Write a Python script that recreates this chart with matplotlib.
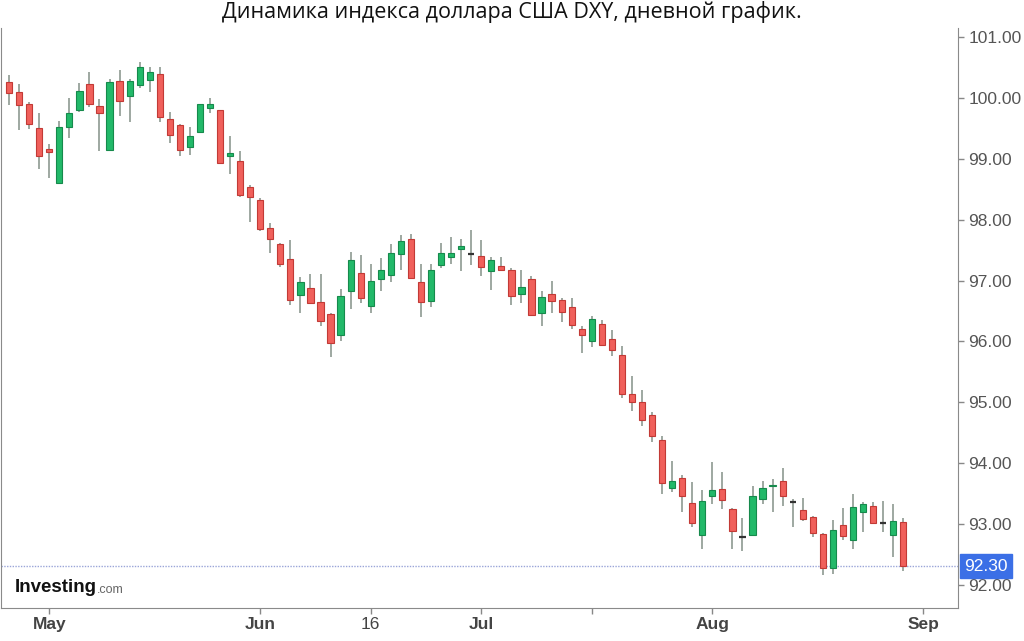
import numpy as np
import pandas as pd
import matplotlib
matplotlib.use("Agg")
import matplotlib.pyplot as plt
from matplotlib.transforms import blended_transform_factory

# daily DXY candles, Apr 27 - Aug 28 2020 (trading days)
opens = [100.27, 100.10, 99.91, 99.51, 99.16, 98.60, 99.53, 99.81, 100.24, 99.87,
         99.14, 100.28, 100.03, 100.21, 100.29, 100.40, 99.65, 99.56, 99.19, 99.45,
         99.83, 99.80, 99.05, 98.96, 98.54, 98.32, 97.87, 97.60, 97.35, 96.76,
         96.87, 96.65, 96.45, 96.11, 96.82, 97.12, 96.58, 97.02, 97.09, 97.44,
         97.69, 96.97, 96.67, 97.26, 97.38, 97.52, 97.43, 97.41, 97.16, 97.24,
         97.17, 96.78, 97.02, 96.46, 96.78, 96.68, 96.56, 96.20, 96.01, 96.29,
         96.04, 95.77, 95.14, 95.00, 94.79, 94.37, 93.59, 93.75, 93.34, 92.82,
         93.45, 93.57, 93.24, 92.78, 92.81, 93.40, 93.62, 93.70, 93.36, 93.23,
         93.11, 92.83, 92.28, 92.98, 92.73, 93.19, 93.30, 93.02, 92.82, 93.03]
highs = [100.38, 100.24, 99.94, 99.76, 99.24, 99.63, 100.01, 100.25, 100.43, 99.98,
         100.31, 100.47, 100.32, 100.59, 100.52, 100.51, 99.77, 99.57, 99.52, 99.91,
         100.01, 99.81, 99.37, 99.13, 98.57, 98.35, 97.94, 97.62, 97.67, 97.06,
         97.10, 97.10, 96.46, 96.86, 97.47, 97.42, 97.28, 97.37, 97.60, 97.75,
         97.77, 97.27, 97.27, 97.62, 97.71, 97.68, 97.83, 97.66, 97.38, 97.38,
         97.20, 97.17, 97.08, 96.83, 97.00, 96.71, 96.72, 96.25, 96.42, 96.35,
         96.19, 95.93, 95.43, 95.20, 94.83, 94.44, 94.03, 93.81, 93.68, 93.55,
         94.01, 93.85, 93.26, 93.10, 93.62, 93.70, 93.74, 93.92, 93.40, 93.43,
         93.12, 92.84, 93.07, 93.26, 93.49, 93.35, 93.36, 93.38, 93.33, 93.10]
lows = [99.88, 99.48, 99.50, 98.84, 98.68, 98.58, 99.34, 99.77, 99.85, 99.13,
        99.13, 99.70, 99.61, 100.16, 100.10, 99.61, 99.26, 99.05, 99.06, 99.43,
        99.75, 98.94, 98.76, 98.38, 97.97, 97.82, 97.46, 97.22, 96.60, 96.47,
        96.63, 96.25, 95.75, 96.00, 96.53, 96.63, 96.46, 96.82, 96.97, 97.17,
        97.05, 96.40, 96.57, 97.20, 97.28, 97.15, 97.26, 97.08, 96.85, 97.15,
        96.60, 96.63, 96.44, 96.25, 96.47, 96.31, 96.20, 95.81, 95.91, 95.93,
        95.76, 95.07, 94.85, 94.61, 94.35, 93.49, 93.52, 93.19, 92.94, 92.58,
        93.33, 93.24, 92.58, 92.55, 92.80, 93.32, 93.19, 93.29, 92.95, 93.04,
        92.79, 92.15, 92.17, 92.74, 92.59, 92.86, 92.99, 92.86, 92.46, 92.23]
closes = [100.08, 99.89, 99.58, 99.05, 99.11, 99.53, 99.75, 100.12, 99.91, 99.76,
          100.27, 99.95, 100.28, 100.51, 100.43, 99.69, 99.39, 99.14, 99.37, 99.90,
          99.90, 98.94, 99.09, 98.40, 98.37, 97.84, 97.69, 97.28, 96.68, 96.97,
          96.63, 96.34, 95.97, 96.75, 97.34, 96.71, 97.00, 97.17, 97.45, 97.65,
          97.05, 96.65, 97.17, 97.46, 97.46, 97.56, 97.43, 97.22, 97.34, 97.17,
          96.74, 96.90, 96.44, 96.73, 96.67, 96.48, 96.27, 96.10, 96.37, 95.94,
          95.85, 95.13, 95.00, 94.70, 94.44, 93.67, 93.70, 93.46, 93.01, 93.37,
          93.56, 93.39, 92.88, 92.78, 93.45, 93.59, 93.64, 93.45, 93.36, 93.08,
          92.85, 92.28, 92.90, 92.80, 93.27, 93.32, 93.01, 93.02, 93.05, 92.30]

last_price = 92.30
y_ticks = [92, 93, 94, 95, 96, 97, 98, 99, 100, 101]
tick_dates = ["2020-05-01", "2020-06-01", "2020-06-16", "2020-07-01",
              "2020-07-16", "2020-08-03", "2020-09-01"]
tick_labels = ["May", "Jun", "16", "Jul", "", "Aug", "Sep"]
title = "Динамика индекса доллара США DXY, дневной график."

plt.rcParams["font.family"] = ["Liberation Sans", "DejaVu Sans"]

days = pd.bdate_range("2020-04-27", "2020-09-04")
idx = np.arange(len(opens))
o = np.array(opens); h = np.array(highs); l = np.array(lows); c = np.array(closes)

green, green_edge = "#22b969", "#168a4c"
red, red_edge = "#f0605b", "#c23a36"
wick_col = "#8e9991"

fig = plt.figure(figsize=(10.24, 6.41), dpi=100)
ax = fig.add_axes([0.001, 0.052, 0.935, 0.904])

up = c > o
down = c < o
flat = c == o

ax.vlines(idx, l, h, color=wick_col, lw=1.2, zorder=1)
ax.bar(idx[up], (c - o)[up], bottom=o[up], width=0.62,
       color=green, edgecolor=green_edge, lw=0.8, zorder=2)
ax.bar(idx[down], (c - o)[down], bottom=o[down], width=0.62,
       color=red, edgecolor=red_edge, lw=0.8, zorder=2)
ax.hlines(o[flat], idx[flat] - 0.31, idx[flat] + 0.31, color="#333333", lw=1.6, zorder=2)

ax.axhline(last_price, color="#9aa5d8", lw=1, ls=(0, (1, 1)), zorder=0)

ax.set_xlim(-0.8, 94.5)
ax.set_ylim(91.62, 101.15)

pos = [days.get_loc(pd.Timestamp(d)) for d in tick_dates]
ax.set_xticks(pos)
ax.set_xticklabels(tick_labels)
for lab, txt in zip(ax.get_xticklabels(), tick_labels):
    lab.set_fontweight("normal" if txt.isdigit() else "bold")
ax.set_yticks(y_ticks)
ax.set_yticklabels(["%.2f" % v for v in y_ticks])
ax.yaxis.tick_right()
ax.tick_params(axis="both", colors="#888888", labelcolor="#555555", labelsize=12.5,
               length=4, width=1, direction="out")
ax.tick_params(axis="y", pad=3)
ax.tick_params(axis="x", pad=3, labelcolor="#444444")
for s in ["left", "bottom", "right"]:
    ax.spines[s].set_color("#8a8a8a")
ax.spines["top"].set_visible(False)

tr = blended_transform_factory(ax.transAxes, ax.transData)
ax.text(1.006, last_price, "%.2f" % last_price, transform=tr, color="white",
        fontsize=12.5, va="center", ha="left", zorder=5,
        bbox=dict(boxstyle="square,pad=0.25", fc="#3b6fe6", ec="#3b6fe6"))

fig.text(0.5, 0.981, title, ha="center", va="center", fontsize=15.5,
         family=["Open Sans", "DejaVu Sans"], color="#111111")

t1 = fig.text(15 / 1024, 1 - 587 / 641, "Investing", fontsize=13.5, fontweight="heavy",
              color="#111111", va="center")
fig.canvas.draw()
bb = t1.get_window_extent()
fig.text(bb.x1 / fig.bbox.width, 1 - 590 / 641, ".com", fontsize=9,
         color="#666666", va="center")

fig.savefig("out.png", dpi=100)
